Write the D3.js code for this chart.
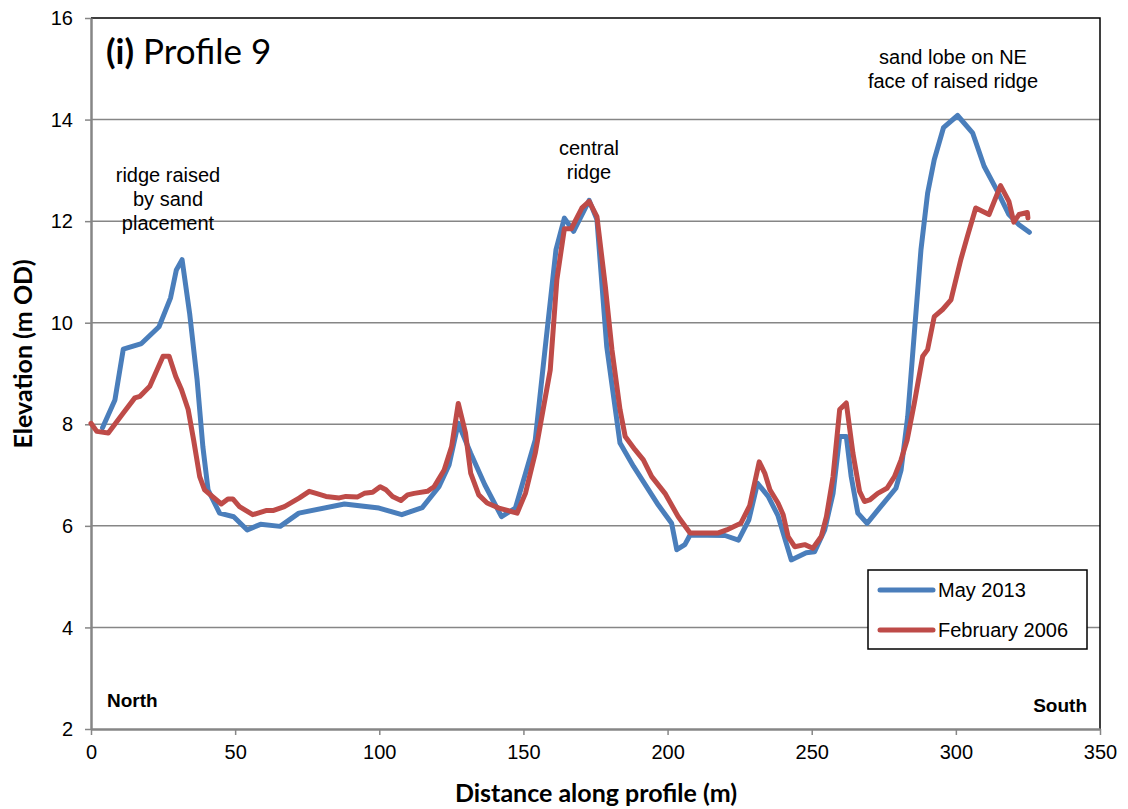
<!DOCTYPE html>
<html>
<head>
<meta charset="utf-8">
<script src="https://cdn.jsdelivr.net/npm/d3@7"></script>
<style>
  body { margin: 0; background: #fff; }
  svg { display: block; }
</style>
</head>
<body>
<div class="chart"></div>
<script>
// May 2013 survey
var dist2013 = [4.0, 8.3, 11.2, 17.5, 23.6, 27.6, 29.6, 31.6, 34.2, 36.8, 38.8, 40.6, 44.6, 49.5, 54.2, 58.8, 65.6, 72.1, 87.9, 99.9,
  107.8, 114.9, 120.7, 124.2, 127.4, 131.7, 136.6, 142.4, 147.2, 154.1, 157.6, 161.3, 164.2, 167.4, 172.8, 175.5, 178.9, 183.5, 188.2, 196.8,
  201.4, 203.2, 206.0, 207.8, 219.9, 224.6, 228.2, 231.2, 234.9, 238.3, 242.9, 248.1, 251.0, 254.5, 257.4, 259.7, 262.0, 263.7, 266.0, 269.2,
  273.5, 279.2, 281.0, 283.3, 285.6, 287.9, 290.2, 292.5, 295.7, 300.6, 305.8, 309.8, 314.4, 318.4, 321.9, 325.5];
var elev2013 = [7.93, 8.48, 9.48, 9.59, 9.92, 10.49, 11.04, 11.24, 10.19, 8.88, 7.56, 6.71, 6.25, 6.18, 5.92, 6.03, 5.99, 6.25, 6.43, 6.35,
  6.22, 6.36, 6.77, 7.2, 8.02, 7.43, 6.81, 6.18, 6.35, 7.69, 9.53, 11.44, 12.06, 11.80, 12.41, 12.03, 9.53, 7.63, 7.17, 6.41,
  6.05, 5.53, 5.63, 5.82, 5.81, 5.72, 6.12, 6.84, 6.58, 6.2, 5.33, 5.47, 5.49, 5.92, 6.64, 7.76, 7.76, 6.97, 6.25, 6.05,
  6.35, 6.74, 7.10, 8.15, 9.80, 11.44, 12.55, 13.21, 13.84, 14.08, 13.74, 13.08, 12.59, 12.13, 11.93, 11.78];

// February 2006 survey
var dist2006 = [0, 2.0, 6.0, 11.2, 15.2, 17.0, 20.4, 25.0, 27.1, 29.4, 31.4, 33.7, 35.6, 37.7, 39.4, 45.2, 47.5, 49.2, 51.5, 56.1,
  60.7, 63.1, 67.1, 72.3, 75.7, 78.1, 81.5, 86.1, 88.4, 92.5, 94.8, 97.7, 100.3, 102.3, 104.6, 107.5, 109.8, 112.1, 116.7, 119.0,
  122.5, 125.1, 127.4, 129.9, 131.7, 134.5, 137.4, 141.5, 147.8, 150.7, 154.1, 159.3, 161.6, 164.2, 166.6, 170.3, 172.8, 175.5, 178.4, 180.7,
  183.5, 185.3, 188.7, 191.6, 194.5, 199.1, 203.7, 207.8, 217.6, 220.5, 225.4, 228.5, 231.8, 233.7, 235.5, 238.3, 240.1, 241.8, 244.1, 247.6,
  250.4, 253.3, 255.1, 257.4, 259.7, 262.0, 264.3, 266.6, 268.3, 270.1, 272.9, 276.1, 278.7, 281.0, 283.1, 285.6, 288.5, 290.2, 292.5, 295.4,
  298.3, 301.7, 304.0, 306.9, 311.5, 315.5, 318.4, 320.1, 321.9, 324.8, 325.0];
var elev2006 = [8.02, 7.86, 7.83, 8.22, 8.52, 8.55, 8.75, 9.34, 9.34, 8.94, 8.68, 8.29, 7.69, 6.97, 6.71, 6.43, 6.53, 6.53, 6.38, 6.22,
  6.30, 6.30, 6.38, 6.55, 6.68, 6.64, 6.58, 6.55, 6.58, 6.57, 6.64, 6.66, 6.77, 6.71, 6.58, 6.50, 6.61, 6.64, 6.68, 6.77,
  7.10, 7.56, 8.41, 7.83, 7.04, 6.61, 6.45, 6.35, 6.25, 6.64, 7.43, 9.07, 10.85, 11.85, 11.85, 12.26, 12.39, 12.09, 10.72, 9.47,
  8.29, 7.76, 7.50, 7.30, 6.97, 6.64, 6.18, 5.86, 5.86, 5.92, 6.05, 6.4, 7.26, 7.04, 6.71, 6.45, 6.22, 5.79, 5.59, 5.63,
  5.56, 5.79, 6.18, 6.97, 8.29, 8.42, 7.43, 6.68, 6.48, 6.51, 6.64, 6.74, 6.97, 7.30, 7.69, 8.42, 9.34, 9.47, 10.12, 10.26,
  10.45, 11.24, 11.70, 12.26, 12.13, 12.70, 12.39, 11.98, 12.13, 12.17, 12.06];

var xTicks = [0, 50, 100, 150, 200, 250, 300, 350];
var yTicks = [2, 4, 6, 8, 10, 12, 14, 16];
var seriesNames = ["May 2013", "February 2006"];
var seriesColors = ["#4a7ebb", "#be4b48"];

var svgWidth = 1128;
var svgHeight = 809;
var margin = { top: 18, right: 28, bottom: 80, left: 91 };
var width = svgWidth - margin.left - margin.right;
var height = svgHeight - margin.top - margin.bottom;

var svg = d3.select(".chart")
    .append("svg")
    .attr("width", svgWidth)
    .attr("height", svgHeight);

var chartGroup = svg.append("g")
    .attr("transform", `translate(${margin.left}, ${margin.top})`);

var xScale = d3.scaleLinear().domain([0, 350]).range([0, width]);
var yScale = d3.scaleLinear().domain([2, 16]).range([height, 0]);

var axisGray = "#868686";

// gridlines
chartGroup.selectAll(".grid")
    .data(yTicks.slice(1, -1))
    .enter()
    .append("line")
    .attr("x1", 0)
    .attr("x2", width)
    .attr("y1", d => yScale(d))
    .attr("y2", d => yScale(d))
    .attr("stroke", axisGray)
    .attr("stroke-width", 1.5);

// top and right border
chartGroup.append("path")
    .attr("d", `M0,${yScale(16)}H${width}V${height}`)
    .attr("fill", "none")
    .attr("stroke", "#000")
    .attr("stroke-width", 1.5);

// axes
var bottomAxis = d3.axisBottom(xScale).tickValues(xTicks).tickSize(6).tickSizeOuter(0).tickPadding(10);
var leftAxis = d3.axisLeft(yScale).tickValues(yTicks).tickSize(6).tickSizeOuter(0).tickPadding(12);

var xAxisG = chartGroup.append("g")
    .attr("transform", `translate(0, ${height})`)
    .call(bottomAxis);
var yAxisG = chartGroup.append("g").call(leftAxis);

[xAxisG, yAxisG].forEach(function (g) {
    g.select(".domain").attr("stroke", axisGray).attr("stroke-width", 2.5);
    g.selectAll(".tick line").attr("stroke", axisGray).attr("stroke-width", 1.5);
    g.selectAll(".tick text")
        .attr("fill", "#000")
        .attr("font-family", "Liberation Sans, Arial, sans-serif")
        .attr("font-size", "20px");
});
yAxisG.selectAll(".tick text").attr("dy", "0.33em");

// lines
var lineGen = d3.line()
    .x(d => xScale(d[0]))
    .y(d => yScale(d[1]));

var data2013 = dist2013.map((d, i) => [d, elev2013[i]]);
var data2006 = dist2006.map((d, i) => [d, elev2006[i]]);

[data2013, data2006].forEach(function (series, i) {
    chartGroup.append("path")
        .datum(series)
        .attr("d", lineGen)
        .attr("fill", "none")
        .attr("stroke", seriesColors[i])
        .attr("stroke-width", 5)
        .attr("stroke-linejoin", "round")
        .attr("stroke-linecap", "round");
});

// title
var title = svg.append("text")
    .attr("x", 106)
    .attr("y", 64)
    .attr("font-family", "Lato, sans-serif")
    .attr("font-size", "35px")
    .attr("fill", "#000");
title.append("tspan").attr("font-weight", "bold").text("(i)");
title.append("tspan").text(" Profile 9");

// annotations
function addNote(x, y, lines) {
    var t = svg.append("text")
        .attr("text-anchor", "middle")
        .attr("font-family", "Liberation Sans, Arial, sans-serif")
        .attr("font-size", "20px")
        .attr("fill", "#000");
    lines.forEach(function (l, i) {
        t.append("tspan").attr("x", x).attr("y", y + i * 24).text(l);
    });
}
addNote(168, 182, ["ridge raised", "by sand", "placement"]);
addNote(589, 155, ["central", "ridge"]);
addNote(953, 64, ["sand lobe on NE", "face of raised ridge"]);

svg.append("text")
    .attr("x", 107)
    .attr("y", 707)
    .attr("font-family", "Liberation Sans, Arial, sans-serif")
    .attr("font-weight", "bold")
    .attr("font-size", "19px")
    .text("North");

svg.append("text")
    .attr("x", 1087)
    .attr("y", 712)
    .attr("text-anchor", "end")
    .attr("font-family", "Liberation Sans, Arial, sans-serif")
    .attr("font-weight", "bold")
    .attr("font-size", "19px")
    .text("South");

// axis titles
svg.append("text")
    .attr("transform", "translate(32, 354) rotate(-90)")
    .attr("text-anchor", "middle")
    .attr("font-family", "Lato, sans-serif")
    .attr("font-weight", "bold")
    .attr("font-size", "25px")
    .text("Elevation (m OD)");

svg.append("text")
    .attr("x", 596)
    .attr("y", 802)
    .attr("text-anchor", "middle")
    .attr("font-family", "Lato, sans-serif")
    .attr("font-weight", "bold")
    .attr("font-size", "25px")
    .text("Distance along profile (m)");

// legend
var legend = svg.append("g").attr("transform", "translate(868, 570)");
legend.append("rect")
    .attr("width", 219)
    .attr("height", 79)
    .attr("fill", "#fff")
    .attr("stroke", "#000")
    .attr("stroke-width", 1.5);

seriesNames.forEach(function (name, i) {
    var yy = 20 + i * 40;
    legend.append("line")
        .attr("x1", 12).attr("x2", 65)
        .attr("y1", yy).attr("y2", yy)
        .attr("stroke", seriesColors[i])
        .attr("stroke-width", 5)
        .attr("stroke-linecap", "round");
    legend.append("text")
        .attr("x", 70)
        .attr("y", yy + 7)
        .attr("font-family", "Liberation Sans, Arial, sans-serif")
        .attr("font-size", "20px")
        .text(name);
});
</script>
</body>
</html>
